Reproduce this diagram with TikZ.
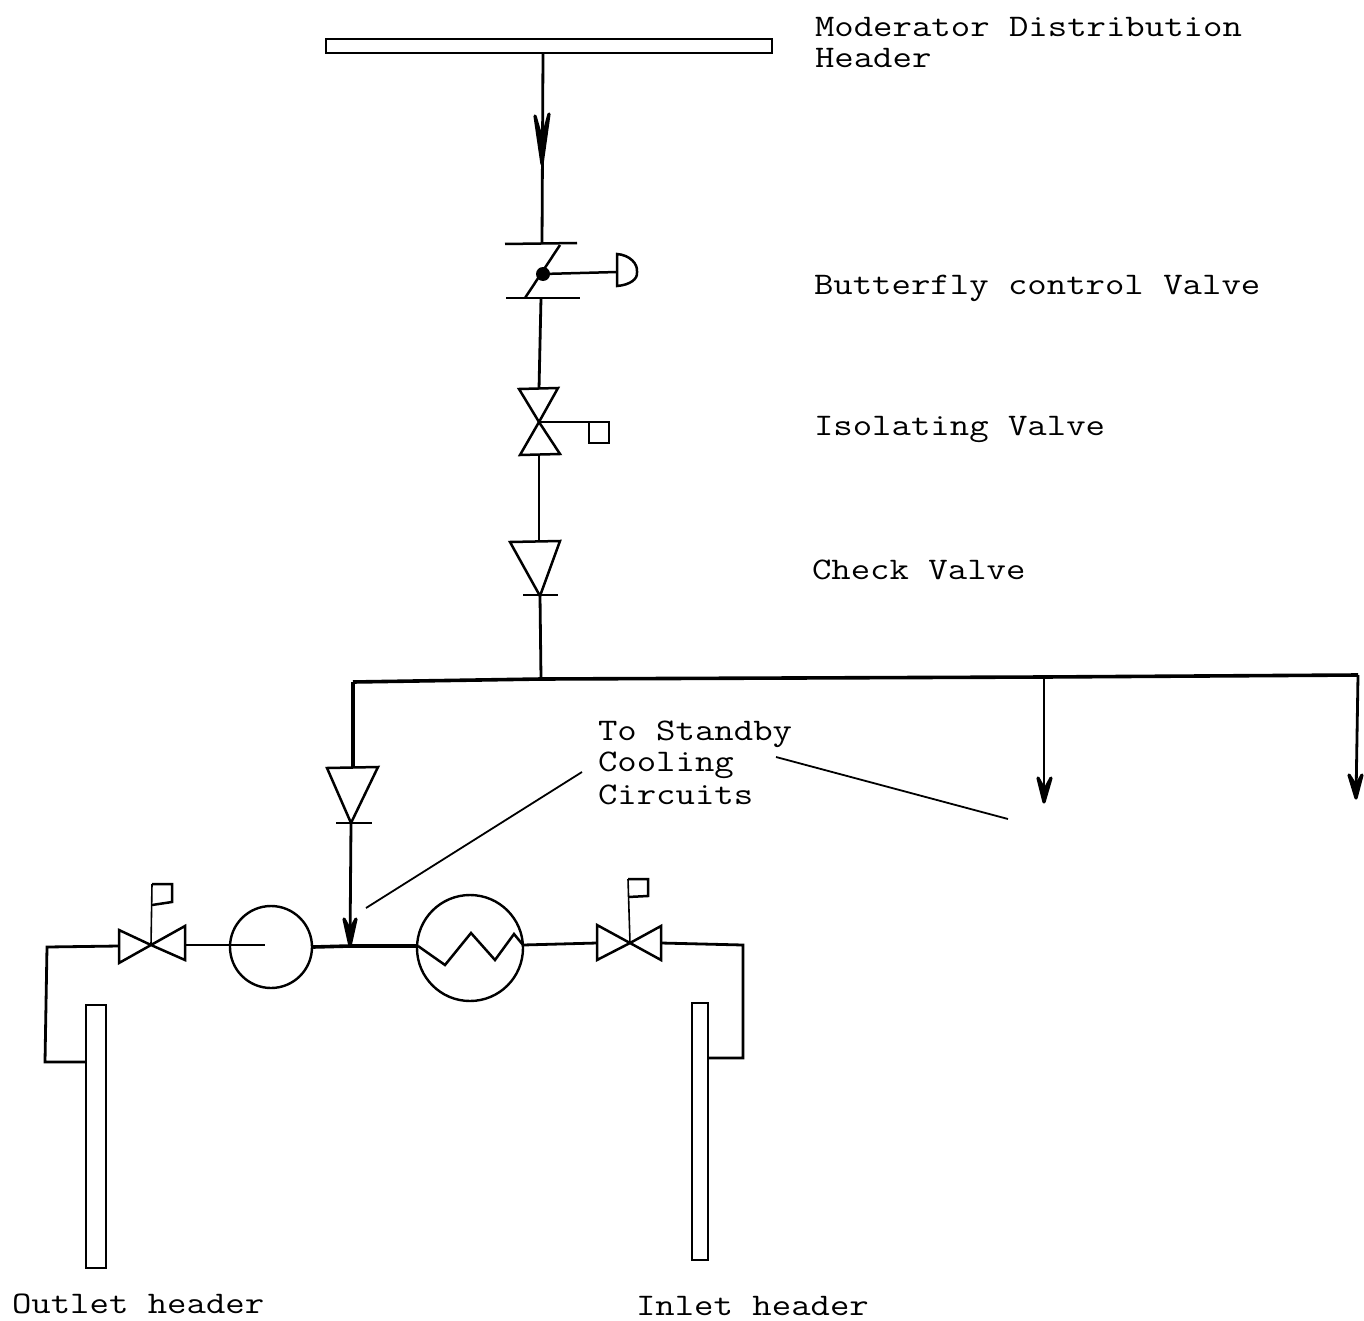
\documentclass[tikz,border=0pt]{standalone}
\usepackage{fontspec}
\setmonofont[FakeStretch=1.2]{Latin Modern Mono}
\usetikzlibrary{calc}
\tikzset{
  x=0.5pt,y=-0.5pt,
  pipe/.style={line width=1.4pt,line join=miter},
  heavy/.style={line width=1.8pt},
  fine/.style={line width=0.8pt},
  sym/.style={line width=1.25pt,line join=miter},
  tip/.style={fill=black,draw=black,line width=1.6pt,line join=round},
  lbl/.style={font=\ttfamily\fontsize{15.7}{15.5}\selectfont,anchor=base west,inner sep=0pt,outer sep=0pt,align=left},
  unit/.style={circle,draw,inner sep=0pt,line width=1.2pt}
}
\begin{document}
\begin{tikzpicture}
\useasboundingbox (0,0) rectangle (1364,1321);
% named points
\coordinate (hdrS) at (543,53);
\coordinate (bfT) at (542,244);
\coordinate (bfB) at (541,298);
\coordinate (ivT) at (539,389);
\coordinate (ivC) at (539,422);
\coordinate (ivB) at (539,455);
\coordinate (cvT) at (539,541);
\coordinate (cvB) at (540,596);
\coordinate (mainJ) at (541,679);
\coordinate (mainL) at (353,682);
\coordinate (mainM) at (1044,677);
\coordinate (mainR) at (1358,675);
\coordinate (lcT) at (353,767);
\coordinate (lcB) at (351,823);
\coordinate (pipeJ) at (350,946);
\coordinate (lvL) at (119,946);
\coordinate (lvC) at (151,945);
\coordinate (lvR) at (185,945);
\coordinate (rvL) at (597,943);
\coordinate (rvC) at (630,943);
\coordinate (rvR) at (661,943);
\coordinate (arM) at (1044,802);
\coordinate (arR) at (1356,798);
\coordinate (hxW) at (418,946);
\coordinate (hxE) at (523,945);
% bars
\node[draw,line width=1.3pt,minimum width=223pt,minimum height=7pt,inner sep=0pt] (hdr) at (549,46) {};
\node[draw,line width=1.2pt,minimum width=10pt,minimum height=131.5pt,inner sep=0pt] (outbar) at (96,1136.5) {};
\node[draw,line width=1.2pt,minimum width=8pt,minimum height=128.5pt,inner sep=0pt] (inbar) at (700,1131.5) {};
% main stem
\draw[pipe] (hdrS) -- (bfT);
\draw[tip] (535,116) -- (542,164) -- (549,114) -- (542,140) -- cycle;
% butterfly valve
\draw[sym] (505,244) -- (577,243);
\draw[sym] (506,298) -- (580,298);
\draw[sym] (560,245) -- (525,298);
\fill (543,274) circle (7);
\coordinate (dot) at (543,274);
\coordinate (act) at (617,272);
\draw[sym] (dot) -- (act);
\draw[sym] (617,254) .. controls (630,255) and (638,264) .. (637,272) .. controls (638,279) and (630,285) .. (617,286) -- cycle;
\draw[pipe] (bfB) -- (ivT);
% isolating valve
\draw[sym] (519,389) -- (558,388) -- (ivC) -- cycle;
\draw[sym] (520,455) -- (560,454) -- (ivC) -- cycle;
\draw[fine] (ivC) -- (590,422);
\draw[sym] (589,422) rectangle (609,443);
\draw[pipe] (ivB) -- (cvT);
% check valve
\draw[sym] (510,542) -- (560,541) -- (cvB) -- cycle;
\draw[sym] (523,595) -- (558,595);
\draw[pipe] (cvB) -- (mainJ);
% main header
\draw[heavy] (mainL) -- (mainJ) -- (mainM) -- (mainR);
\draw[pipe] (mainM) -- (arM);
\draw[tip] (1038,778) -- (arM) -- (1051,778) -- (1044.5,790) -- cycle;
\draw[pipe] (mainR) -- (arR);
\draw[tip] (1349,775) -- (arR) -- (1362,775) -- (1356,786) -- cycle;
% left branch
\draw[heavy] (mainL) -- (lcT);
\draw[sym] (327,768) -- (378,767) -- (lcB) -- cycle;
\draw[sym] (336,823) -- (372,823);
\draw[pipe] (lcB) -- (pipeJ);
\draw[tip] (344,919) -- (pipeJ) -- (356,919) -- (350,930) -- cycle;
% units
\node[unit,minimum size=41pt] (pump) at (271,947) {};
\node[unit,minimum size=53pt] (hx) at (470,948) {};
% lower pipe
\draw[pipe] (lvR) -- (265,945);
\draw[heavy] (pump.east) -- (pipeJ) -- (hxW);
\draw[sym] (hxW) -- (445,965) -- (471,933) -- (495,960) -- (514,934) -- (hxE);
\draw[pipe] (hxE) -- (rvL);
% left control valve
\draw[sym] (119,930) -- (119,963) -- (lvC) -- (185,926) -- (185,960) -- (lvC) -- cycle;
\draw[fine] (lvC) -- (152,884);
\draw[sym] (152,884) -- (172,884) -- (172,902) -- (152,905);
% right control valve
\draw[sym] (597,925) -- (597,960) -- (rvC) -- (661,926) -- (661,960) -- (rvC) -- cycle;
\draw[fine] (rvC) -- (628,879);
\draw[sym] (628,879) -- (648,879) -- (648,896) -- (628,897);
% outlet and inlet lines
\draw[pipe] (lvL) -- (47,947) -- (45,1062) -- (outbar.west |- 0,1062);
\draw[pipe] (rvR) -- (743,945) -- (743,1058) -- (inbar.east |- 0,1058);
% labels
\node[lbl] (t1) at (815,36.5) {Moderator Distribution};
\node[lbl] (t1b) at (815,67.5) {Header};
\node[lbl] (t2) at (814,294) {Butterfly control Valve};
\node[lbl] (t3) at (814,435) {Isolating Valve};
\node[lbl] (t4) at (812,579) {Check Valve};
\node[lbl] (t5) at (598,740) {To Standby};
\node[lbl] (t6) at (598,771) {Cooling};
\node[lbl] (t7) at (598,804) {Circuits};
\node[lbl] (t8) at (12,1313) {Outlet header};
\node[lbl] (t9) at (636,1315) {Inlet header};
% leaders
\coordinate (ldA) at (366,908);
\coordinate (ldB) at (1008,819);
\draw[line width=0.9pt] (582,772) -- (ldA);
\draw[line width=0.9pt] (776,757) -- (ldB);
\end{tikzpicture}
\end{document}
